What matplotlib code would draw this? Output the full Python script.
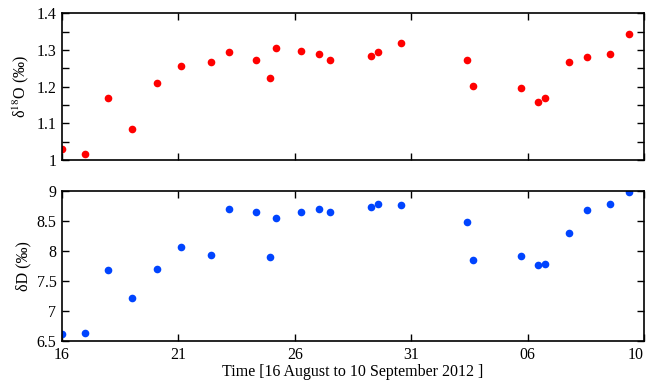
import matplotlib
matplotlib.use("Agg")
import matplotlib.pyplot as plt
from matplotlib.ticker import FormatStrFormatter, MultipleLocator, FuncFormatter

# day index from 16 August 2012 (31 = 31 Aug, 36 = 5 Sep ...)
days = [16.0, 17.0, 17.99, 19.02, 20.1, 21.1, 22.4, 23.17, 24.35, 24.95, 25.2,
        26.25, 27.03, 27.5, 29.29, 29.56, 30.57, 33.38, 33.67, 35.72, 36.45,
        36.75, 37.79, 38.54, 39.55, 40.34]
d18O = [1.030, 1.017, 1.168, 1.085, 1.210, 1.256, 1.266, 1.294, 1.274, 1.224, 1.305,
        1.296, 1.288, 1.274, 1.284, 1.294, 1.320, 1.274, 1.202, 1.196, 1.158,
        1.168, 1.267, 1.281, 1.290, 1.344]
dD = [6.62, 6.64, 7.69, 7.22, 7.70, 8.07, 7.94, 8.70, 8.65, 7.91, 8.55,
      8.66, 8.71, 8.66, 8.73, 8.78, 8.77, 8.48, 7.85, 7.92, 7.77,
      7.78, 8.30, 8.68, 8.78, 8.99]

xticks = [16, 21, 26, 31, 36, 41]
xticklabels = ["16", "21", "26", "31", "06", "10"]

plt.rcParams['font.family'] = ['Liberation Serif', 'DejaVu Serif']
plt.rcParams['font.size'] = 11.5
plt.rcParams['mathtext.fontset'] = 'stix'

fig = plt.figure(figsize=(6.47, 3.81), dpi=100)
ax1 = fig.add_axes([0.0958, 0.580, 0.8996, 0.385])
ax2 = fig.add_axes([0.0958, 0.105, 0.8996, 0.393])

ax1.plot(days, d18O, 'o', color='#ff0000', ms=5.5, mec='none')
ax2.plot(days, dD, 'o', color='#0044ff', ms=5.5, mec='none')

for ax in (ax1, ax2):
    ax.set_xlim(16, 41)
    ax.set_xticks(xticks)
    ax.tick_params(direction='in', top=True, right=True, length=5, width=1, pad=4)
    for s in ax.spines.values():
        s.set_linewidth(1.2)

ax1.set_xticklabels([])
ax2.set_xticklabels(xticklabels)
ax2.get_xticklabels()[-1].set_horizontalalignment('right')

ax1.set_ylim(1.0, 1.4)
ax1.yaxis.set_major_locator(MultipleLocator(0.05))
ax1.yaxis.set_major_formatter(FuncFormatter(
    lambda v, p: ('%g' % round(v, 2)) if abs(round(v * 10) - v * 10) < 1e-6 else ''))
ax2.set_ylim(6.5, 9)
ax2.yaxis.set_major_locator(MultipleLocator(0.5))
ax2.yaxis.set_major_formatter(FormatStrFormatter('%g'))

ax1.set_ylabel(r'δ$^{18}$O (‰)')
ax2.set_ylabel('δD (‰)')
ax2.set_xlabel('Time [16 August to 10 September 2012 ]', labelpad=1)

fig.savefig('out.png', dpi=100)
